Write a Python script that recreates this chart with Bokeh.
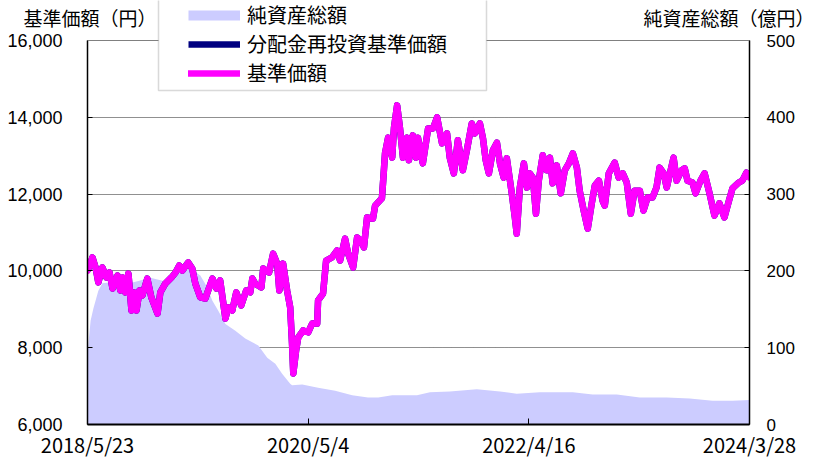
import pandas as pd
from bokeh.plotting import figure
from bokeh.models import (Range1d, LinearAxis, FixedTicker, NumeralTickFormatter,
                          Legend, LegendItem, Title, BoxAnnotation, Span,
                          ColumnDataSource)
from bokeh.embed import file_html
from bokeh.resources import INLINE

# ---------------- data ----------------
start_date = "2018-05-23"
end_date = "2024-03-28"
tick_dates = ["2018-05-23", "2020-05-04", "2022-04-16", "2024-03-28"]
tick_labels = ["2018/5/23", "2020/5/4", "2022/4/16", "2024/3/28"]
left_ticks = [6000, 8000, 10000, 12000, 14000, 16000]
right_ticks = [0, 100, 200, 300, 400, 500]

# 基準価額 (円): days elapsed since 2018/5/23, value
nav_days = [0, 3, 16, 26, 35, 48, 61, 71, 81, 97,
            106, 113, 122, 132, 142, 151, 158, 168, 177, 193,
            206, 226, 235, 251, 271, 284, 296, 306, 325, 338,
            348, 364, 380, 403, 416, 428, 445, 454, 467, 480,
            496, 512, 525, 532, 541, 561, 567, 586, 599, 612,
            619, 631, 644, 654, 660, 664, 673, 680, 696, 712,
            725, 741, 744, 760, 770, 789, 805, 815, 831, 841,
            857, 870, 883, 892, 902, 921, 928, 950, 954, 960,
            970, 983, 989, 999, 1008, 1018, 1031, 1037, 1050, 1060,
            1066, 1082, 1099, 1115, 1128, 1144, 1160, 1169, 1182, 1195,
            1211, 1224, 1240, 1250, 1266, 1276, 1285, 1295, 1308, 1321,
            1331, 1343, 1353, 1369, 1379, 1385, 1395, 1408, 1418, 1427,
            1437, 1447, 1456, 1469, 1482, 1492, 1501, 1514, 1527, 1540,
            1553, 1566, 1579, 1588, 1601, 1614, 1627, 1637, 1650, 1662,
            1669, 1682, 1701, 1714, 1727, 1740, 1753, 1765, 1782, 1794,
            1807, 1823, 1836, 1846, 1859, 1869, 1891, 1901, 1917, 1927,
            1936, 1952, 1962, 1978, 1991, 2007, 2023, 2039, 2055, 2068,
            2081, 2101, 2113, 2126, 2136]
nav_values = [10000, 10060, 10350, 10090, 9700, 10090, 9830, 9960, 9540, 9880,
              9490, 9830, 9440, 9930, 8970, 9440, 8970, 9490, 9360, 9800,
              9310, 8890, 9440, 9670, 9830, 9960, 10140, 10010, 10220, 10060,
              9670, 9310, 9280, 9800, 9540, 9750, 8760, 9050, 8970, 9440,
              9100, 9490, 9440, 9800, 9670, 9570, 10060, 9960, 10450, 10190,
              9490, 10190, 9490, 9050, 8110, 7330, 7930, 8270, 8450, 8400,
              8630, 8630, 9230, 9410, 10270, 10350, 10530, 10270, 10840, 10450,
              10090, 10870, 10790, 10610, 11390, 11360, 11700, 11890, 12350, 13060,
              13470, 12950, 13730, 14310, 13730, 12950, 13470, 12880, 13530, 12950,
              13470, 12800, 13710, 13710, 14000, 13320, 13580, 12950, 12540, 13400,
              12620, 13140, 13840, 13580, 13840, 13450, 12880, 12540, 13140, 13340,
              12800, 12430, 12930, 12020, 11390, 10970, 12170, 12800, 12170, 12540,
              12430, 11490, 12350, 13010, 12620, 12950, 12280, 12750, 12020, 12620,
              12800, 13060, 12690, 12090, 11570, 11100, 11760, 12220, 12350, 11830,
              11700, 12540, 12820, 12430, 12540, 12300, 11490, 12090, 12090, 11570,
              11910, 11910, 12170, 12690, 12540, 12170, 12950, 12350, 12620, 12670,
              12350, 12300, 12020, 12350, 12540, 12020, 11440, 11760, 11390, 11780,
              12150, 12300, 12350, 12560, 12430]

# 純資産総額 (億円): days elapsed since 2018/5/23, value
aum_days = [0, 3, 10, 19, 35, 48, 68, 90, 113, 145,
            164, 203, 245, 277, 300, 332, 364, 383, 403, 422,
            445, 477, 509, 551, 580, 606, 628, 654, 660, 693,
            744, 799, 854, 905, 938, 983, 1024, 1063, 1105, 1169,
            1256, 1331, 1385, 1459, 1566, 1630, 1708, 1782, 1869, 1943,
            2017, 2081, 2136]
aum_values = [90, 105, 135, 151, 174, 184, 185, 178, 184, 185,
              187, 191, 187, 191, 198, 203, 194, 181, 161, 148,
              131, 122, 112, 103, 87, 79, 66, 53, 51, 52,
              48, 44, 38, 35, 35, 38, 38, 38, 42, 43,
              46, 43, 40, 42, 42, 39, 39, 35, 35, 34,
              31, 31, 32]

# ---------------- build ----------------
t0 = pd.Timestamp(start_date)
nav_dates = t0 + pd.to_timedelta(nav_days, unit="D")
aum_dates = t0 + pd.to_timedelta(aum_days, unit="D")

src_nav = ColumnDataSource(dict(date=nav_dates, nav=nav_values))
src_aum = ColumnDataSource(dict(date=aum_dates, aum=aum_values))
# one-point source: draws nothing in the plot, only provides the legend key
src_key = ColumnDataSource(dict(date=aum_dates[:1], aum=aum_values[:1]))

JP = "Noto Sans CJK JP"
NUM = "Liberation Sans"

W, H = 816, 461
FRAME_L, FRAME_R, FRAME_B = 87, 749, 424
TOP_PX = 40            # pixel row of the 16,000 / 500 line
px_per_unit_l = (FRAME_B - TOP_PX) / (left_ticks[-1] - left_ticks[0])
px_per_unit_r = (FRAME_B - TOP_PX) / (right_ticks[-1] - right_ticks[0])
y_top_l = left_ticks[-1] + TOP_PX / px_per_unit_l
y_top_r = right_ticks[-1] + TOP_PX / px_per_unit_r

p = figure(width=W, height=H, x_axis_type="datetime",
           x_range=Range1d(pd.Timestamp(start_date), pd.Timestamp(end_date)),
           y_range=Range1d(left_ticks[0], y_top_l),
           output_backend="svg", toolbar_location=None,
           min_border_left=FRAME_L, min_border_right=W - FRAME_R,
           min_border_top=0, min_border_bottom=H - FRAME_B)
p.title.visible = False
p.extra_y_ranges = {"aum": Range1d(right_ticks[0], y_top_r)}
p.background_fill_color = "white"
p.border_fill_color = "white"
p.outline_line_color = None

p.xgrid.visible = False
p.ygrid.ticker = FixedTicker(ticks=left_ticks[1:-1])
p.ygrid.grid_line_color = "#202020"
p.ygrid.grid_line_dash = "1 1"
p.ygrid.grid_line_width = 1

# renderers
area = p.varea(x="date", y1=0, y2="aum", source=src_aum, y_range_name="aum",
               fill_color="#ccccff", fill_alpha=1)
navy = p.line("date", "nav", source=src_nav, line_color="#000080", line_width=6.5,
              line_join="round")
mag = p.line("date", "nav", source=src_nav, line_color="#ff00ff", line_width=6.5,
             line_join="round", line_cap="round")
area_key = p.line("date", "aum", source=src_key, y_range_name="aum",
                  line_color="#ccccff", line_width=10)

# top border of the plot area
p.add_layout(Span(location=left_ticks[-1], dimension="width",
                  line_color="#808080", line_width=1))

# left axis
ya = p.yaxis[0]
ya.bounds = (left_ticks[0], left_ticks[-1])
ya.ticker = FixedTicker(ticks=left_ticks)
ya.formatter = NumeralTickFormatter(format="0,0")
ya.major_tick_in = 5
ya.major_tick_out = 0
ya.minor_tick_line_color = None
ya.axis_line_color = "black"
ya.axis_line_width = 1.5
ya.major_label_text_font = NUM
ya.major_label_text_font_size = "18px"
ya.major_label_text_color = "black"
ya.major_label_standoff = 25

# right axis
ra = LinearAxis(y_range_name="aum", ticker=FixedTicker(ticks=right_ticks),
                bounds=(right_ticks[0], right_ticks[-1]))
ra.major_tick_in = 5
ra.major_tick_out = 0
ra.minor_tick_line_color = None
ra.axis_line_color = "black"
ra.axis_line_width = 1.5
ra.major_label_text_font = NUM
ra.major_label_text_font_size = "17px"
ra.major_label_text_color = "black"
ra.major_label_standoff = 17
p.add_layout(ra, "right")

# bottom axis
tick_ms = [int(pd.Timestamp(d).value // 10**6) for d in tick_dates]
xa = p.xaxis[0]
xa.ticker = FixedTicker(ticks=tick_ms)
xa.major_label_overrides = {t: lab for t, lab in zip(tick_ms, tick_labels)}
xa.major_tick_in = 6
xa.major_tick_out = 0
xa.minor_tick_line_color = None
xa.axis_line_color = "black"
xa.axis_line_width = 2
xa.major_label_text_font = JP
xa.major_label_text_font_size = "20px"
xa.major_label_text_color = "black"
xa.major_label_standoff = 5

# legend box + legend
box = BoxAnnotation(left=158, right=486, top=-10, bottom=90,
                    left_units="canvas", right_units="canvas",
                    top_units="canvas", bottom_units="canvas",
                    fill_color="white", fill_alpha=1,
                    line_color="#808080", line_width=1.5)
p.add_layout(box)

legend = Legend(items=[LegendItem(label="純資産総額", renderers=[area_key]),
                       LegendItem(label="分配金再投資基準価額", renderers=[navy]),
                       LegendItem(label="基準価額", renderers=[mag])],
                location=(101, 337), padding=0, spacing=0, margin=0,
                glyph_width=52, glyph_height=28, label_height=28,
                label_standoff=7, label_text_font=JP,
                label_text_font_size="20px", label_text_color="black",
                border_line_color=None, background_fill_alpha=0)
p.add_layout(legend)

# axis titles (zero-height titles in the top panel, so they are not clipped)
for txt, off in [("基準価額（円）", 23 - FRAME_L), ("純資産総額（億円）", 643 - FRAME_L)]:
    p.add_layout(Title(text=txt, align="left", offset=off, standoff=-60,
                       vertical_align="bottom", text_font=JP,
                       text_font_size="19px", text_font_style="normal",
                       text_color="black"), "above")

open("out.html", "w").write(file_html(p, INLINE))
